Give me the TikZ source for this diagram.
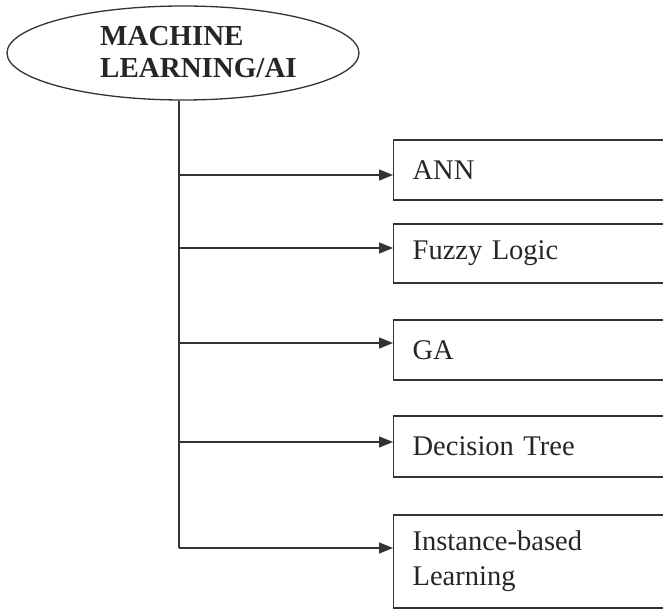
\documentclass[tikz,border=0pt]{standalone}
\usepackage{fontspec}
\setmainfont{Liberation Serif}
\usetikzlibrary{shapes.geometric,arrows.meta}
\begin{document}
\begin{tikzpicture}[x=1pt,y=1pt,
  ink/.style={draw=black!80,line width=1.3pt},
  item/.style={ink,rectangle,anchor=west,minimum width=300pt,text width=262pt,
    inner xsep=19pt,align=left,font=\fontsize{28.5}{35}\selectfont,text=black!85},
  branch/.style={ink,-{Triangle[length=14pt,width=11pt]}}]
\useasboundingbox (0,0) rectangle (663,611);
\clip (0,0) rectangle (663,611);
\fill[white] (0,0) rectangle (663,611);

% root ellipse and its title
\node[ink,ellipse,minimum width=352pt,minimum height=94pt] (ml) at (183,558) {};
\node[anchor=north west,inner sep=0pt,align=left,text=black!85,
  font=\bfseries\fontsize{29}{32}\selectfont] (mltext) at (100,585)
  {MACHINE\\LEARNING/AI};

% method boxes
\node[item,minimum height=60pt] (b1) at (393,441) {ANN};
\node[item,minimum height=59pt] (b2) at (393,357.5) {Fuzzy Logic};
\node[item,minimum height=60pt] (b3) at (393,261) {GA};
\node[item,minimum height=61pt] (b4) at (393,164.5) {Decision Tree};
\node[item,minimum height=93pt] (b5) at (393,49.5) {Instance-based\\Learning};

% junctions on the trunk
\coordinate (j1) at (179,436);
\coordinate (j2) at (179,363);
\coordinate (j3) at (179,268);
\coordinate (j4) at (179,169);
\coordinate (j5) at (179,63);

% trunk and branches
\draw[ink] (ml.south -| j1) -- (j5);
\draw[branch] (j1) -- (j1 -| b1.west);
\draw[branch] (j2) -- (j2 -| b2.west);
\draw[branch] (j3) -- (j3 -| b3.west);
\draw[branch] (j4) -- (j4 -| b4.west);
\draw[branch] (j5) -- (j5 -| b5.west);
\end{tikzpicture}
\end{document}
